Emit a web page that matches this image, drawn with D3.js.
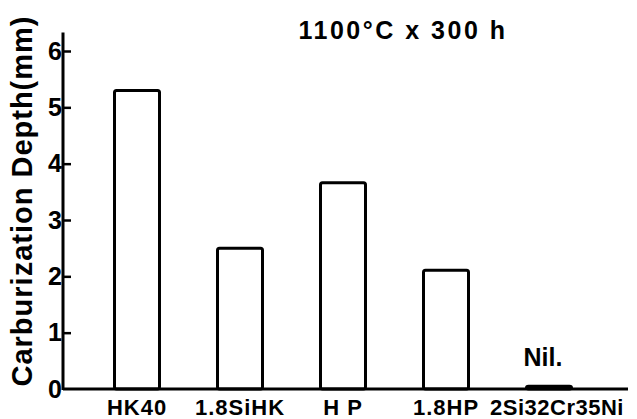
<!DOCTYPE html>
<html>
<head>
    <title>carburization depth</title>
</head>
<meta charset="utf-8">
<style type="text/css">
    html, body {
        margin: 0;
        background: #fff;
    }
    svg text {
        font-family: "Liberation Sans", Arial, sans-serif;
        font-weight: bold;
        fill: #000;
    }
</style>
<body>
<svg id="chart" width="637" height="419"></svg>

<script src="https://cdn.jsdelivr.net/npm/d3@7"></script>
<script>
    "use strict";

    // data
    const alloys = ["HK40", "1.8SiHK", "H P", "1.8HP", "2Si32Cr35Ni"];
    const depths = [5.3, 2.5, 3.66, 2.11, 0.05];
    const yTicks = [0, 1, 2, 3, 4, 5, 6];
    const title = "1100°C x 300 h";
    const yTitle = "Carburization Depth(mm)";

    const svg = d3.select("#chart");

    const x = d3.scalePoint()
        .domain(alloys)
        .range([137, 549]);
    const y = d3.scaleLinear()
        .domain([0, 6])
        .range([389, 51]);
    const barW = 45;

    // bars
    svg.append("g").selectAll("rect")
        .data(alloys)
        .enter().append("rect")
        .attr("x", d => x(d) - barW / 2)
        .attr("y", (d, i) => y(depths[i]))
        .attr("width", barW)
        .attr("height", (d, i) => y(0) - y(depths[i]))
        .attr("fill", "#fff")
        .attr("stroke", "#000")
        .attr("stroke-width", 3)
        .attr("rx", 2);

    // y axis, ticks point inward
    const yAxis = svg.append("g")
        .attr("transform", "translate(63,0)")
        .call(d3.axisLeft(y).tickValues(yTicks).tickFormat(d3.format("d"))
            .tickSize(-8).tickSizeOuter(0).tickPadding(1));
    yAxis.select(".domain").remove();
    yAxis.selectAll(".tick line").attr("stroke-width", 2.5);
    yAxis.selectAll(".tick").filter(d => d === 0).select("line").remove();
    yAxis.selectAll("text")
        .attr("font-size", 25)
        .attr("font-family", "Liberation Sans, Arial, sans-serif")
        .attr("font-weight", "bold")
        .attr("fill", "#000");

    svg.append("line")
        .attr("x1", 63).attr("x2", 63)
        .attr("y1", y(0) + 1).attr("y2", y(6.33))
        .attr("stroke", "#000").attr("stroke-width", 3);

    // baseline
    svg.append("line")
        .attr("x1", 63).attr("x2", 628)
        .attr("y1", y(0)).attr("y2", y(0))
        .attr("stroke", "#000").attr("stroke-width", 3);

    // category labels
    svg.append("g").selectAll("text")
        .data(alloys)
        .enter().append("text")
        .attr("x", (d, i) => x(d) + (i === 4 ? 8 : 0))
        .attr("y", 415)
        .attr("text-anchor", "middle")
        .attr("font-size", 22)
        .style("letter-spacing", (d, i) => i === 4 ? "0.5px" : "1px")
        .text(d => d);

    // "Nil." above the empty bar
    svg.append("text")
        .attr("x", x(alloys[4]) - 6)
        .attr("y", 366)
        .attr("text-anchor", "middle")
        .attr("font-size", 25)
        .text("Nil.");

    // title
    svg.append("text")
        .attr("x", 403)
        .attr("y", 39)
        .attr("text-anchor", "middle")
        .attr("font-size", 25)
        .style("letter-spacing", "2.5px")
        .text(title);

    // y title
    svg.append("text")
        .attr("transform", "translate(32,201) rotate(-90)")
        .attr("text-anchor", "middle")
        .attr("font-size", 29)
        .style("letter-spacing", "1px")
        .text(yTitle);
</script>
</body>
</html>
